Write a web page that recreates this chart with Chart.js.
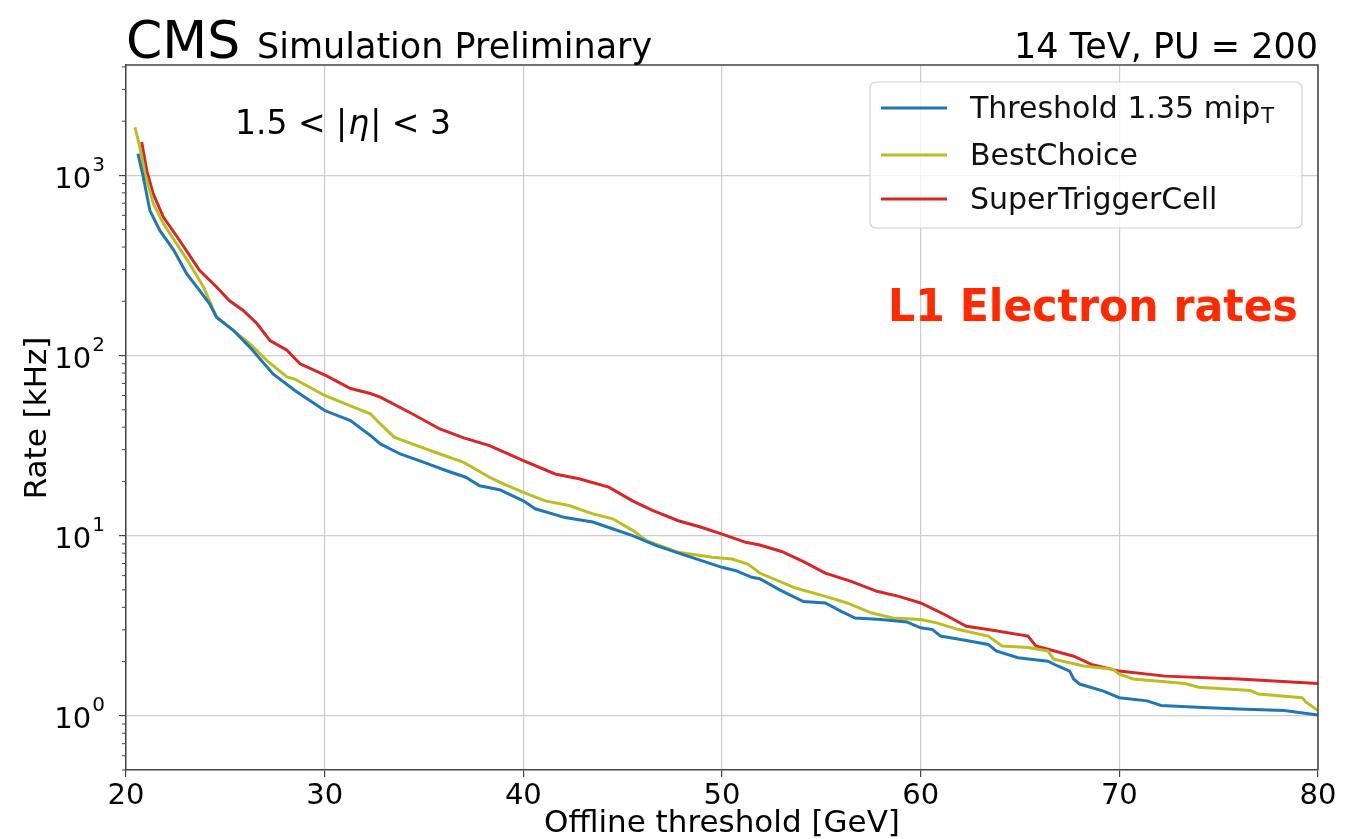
<!DOCTYPE html>
<html><head><meta charset="utf-8">
<script src="https://cdn.jsdelivr.net/npm/chart.js@4/dist/chart.umd.min.js"></script>
<style>html,body{margin:0;padding:0;background:#fff;overflow:hidden}</style>
</head><body>
<canvas id="c" width="1359" height="839"></canvas>
<script>
// ---- data ----
const seriesNames = ["Threshold 1.35 mip", "BestChoice", "SuperTriggerCell"];
const seriesColors = ["#1f77b4", "#bcbd22", "#d62728"];

const thrX = [20.6,20.87,21.2,21.7,22.4,23.05,23.7,24.2,24.56,25.4,26.24,27.4,28.5,30.0,31.3,32.3,32.8,33.8,35.0,36.1,37.1,37.8,38.8,40.0,40.6,42.1,43.5,44.3,45.5,46.7,48.2,50.0,50.7,51.5,51.9,52.9,54.1,55.2,56.0,56.7,58.0,59.3,60.0,60.6,61.0,62.3,63.4,63.8,64.9,66.4,66.9,67.5,67.7,68.0,69.2,70.0,71.4,72.1,74.2,76.0,78.3,80.0];
const thrY = [1320,980,640,495,385,285,230,194,163,138,111,79,64,49.5,43.5,36,32.3,28.4,25.5,23.0,21.1,18.9,18.0,15.6,14.1,12.6,11.9,11.1,10.0,8.8,7.74,6.67,6.39,5.87,5.77,5.0,4.31,4.23,3.80,3.49,3.42,3.32,3.08,3.01,2.77,2.62,2.49,2.29,2.10,2.01,1.89,1.77,1.60,1.50,1.37,1.26,1.21,1.14,1.11,1.09,1.07,1.01];

const bcX = [20.45,20.7,20.96,21.37,21.88,22.55,23.2,23.9,24.56,25.4,26.24,27.08,28.1,28.5,30.0,31.3,32.3,32.8,33.5,34.4,35.8,37.0,38.3,38.8,40.0,41.1,42.3,43.5,44.5,45.5,46.2,47.8,49.5,50.5,51.3,51.9,53.7,55.2,56.3,57.5,58.6,60.0,60.8,61.9,63.4,64.1,65.4,66.4,66.7,68.2,69.7,70.0,70.7,73.3,74.0,76.6,77.0,79.2,79.4,80.0];
const bcY = [1850,1430,1020,700,540,417,323,240,163,138,116,94,76,74,60,52.6,47.5,41.7,35.2,32.3,28.4,25.5,21.1,19.8,17.4,15.6,14.7,13.2,12.4,10.7,9.38,8.08,7.58,7.42,6.96,6.2,5.12,4.60,4.23,3.73,3.49,3.42,3.28,3.01,2.77,2.44,2.39,2.29,2.06,1.89,1.81,1.70,1.60,1.51,1.44,1.38,1.32,1.26,1.19,1.07];

const stcX = [20.79,21.04,21.37,21.88,22.7,23.7,24.56,25.2,25.9,26.6,27.25,28.1,28.76,30.1,31.3,32.3,32.8,34.4,35.8,37.0,38.3,40.0,41.6,42.8,44.3,45.5,46.5,47.8,49.0,50.0,51.2,51.9,53.0,54.1,55.2,56.5,57.8,58.9,60.0,61.2,62.3,63.4,65.4,65.8,67.7,68.6,70.0,72.3,76.0,80.0];
const stcY = [1530,1066,790,587,435,297,240,202,178,150,121,107,90,77,65.6,61.5,58.7,47.5,39.1,34.9,31.6,26.1,22.0,20.7,18.6,15.6,13.8,12.1,11.1,10.2,9.18,8.87,8.17,7.18,6.19,5.57,4.91,4.60,4.23,3.65,3.14,3.01,2.77,2.44,2.14,1.93,1.77,1.66,1.60,1.51];

const xTicks = [20,30,40,50,60,70,80];
const yDecades = [1,10,100,1000];
const yMin = 0.5, yMax = 4100;

const FONT = "'DejaVu Sans', sans-serif";

function pts(xs, ys){ return xs.map((x,i)=>({x:x, y:ys[i]})); }

const yTickValues = [];
[0.1,1,10,100,1000].forEach(d=>{ for(let k=1;k<10;k++){ const v=+(d*k).toPrecision(3); if(v>=yMin && v<=yMax) yTickValues.push(v);} });
const isDecade = v => yDecades.some(d=>Math.abs(d-v)<1e-9);

const overlay = {
  id:'overlay',
  afterDraw(chart){
    const c = chart.ctx, a = chart.chartArea;
    const xs = chart.scales.x, ys = chart.scales.y;
    c.save();
    // frame top/right
    c.strokeStyle = '#444'; c.lineWidth = 1.5;
    c.beginPath(); c.moveTo(a.left, a.top); c.lineTo(a.right, a.top); c.lineTo(a.right, a.bottom); c.stroke();
    // minor y ticks
    c.lineWidth = 1;
    yTickValues.forEach(v=>{ if(isDecade(v)) return; const p = ys.getPixelForValue(v); c.beginPath(); c.moveTo(a.left-4,p); c.lineTo(a.left,p); c.stroke(); });
    // y labels with superscripts
    c.fillStyle = '#000';
    yDecades.forEach(d=>{
      const p = ys.getPixelForValue(d);
      const e = String(Math.round(Math.log10(d)));
      c.font = "20px " + FONT; const ew = c.measureText(e).width;
      const right = a.left - 21;
      c.textBaseline = 'middle'; c.textAlign = 'left';
      c.fillText(e, right - ew, p - 10);
      c.font = "29px " + FONT; c.textAlign = 'right';
      c.fillText('10', right - ew - 1, p + 5);
    });
    // axis titles
    c.font = "31px " + FONT; c.textAlign = 'center'; c.textBaseline = 'middle';
    c.fillText('Offline threshold [GeV]', (a.left+a.right)/2, 824);
    c.save(); c.translate(38, 418); c.rotate(-Math.PI/2); c.fillText('Rate [kHz]', 0, 0); c.restore();
    // header
    c.textBaseline = 'alphabetic'; c.textAlign = 'left';
    c.font = "52px " + FONT; c.fillText('CMS', a.left, 58);
    c.font = "35px " + FONT; c.fillText('Simulation Preliminary', 257, 58);
    c.textAlign = 'right'; c.fillText('14 TeV, PU = 200', a.right, 58);
    // eta label
    c.textAlign = 'left'; c.textBaseline = 'middle';
    let x0 = 235; const ey = 125;
    c.font = "33px " + FONT; c.fillText('1.5 < |', x0, ey); x0 += c.measureText('1.5 < |').width;
    c.font = "italic 33px " + FONT; c.fillText('η', x0+1, ey); x0 += c.measureText('η').width + 2;
    c.font = "33px " + FONT; c.fillText('| < 3', x0, ey);
    // L1 text
    c.fillStyle = '#ff2a00'; c.font = "bold 44px " + FONT; c.textAlign = 'left';
    c.fillText('L1 Electron rates', 888, 310, 410);
    // legend
    const lx = 870, ly = 82, lw = 432, lh = 146;
    c.fillStyle = 'rgba(255,255,255,0.8)'; c.strokeStyle = '#d0d0d0'; c.lineWidth = 1.2;
    c.beginPath(); c.roundRect(lx, ly, lw, lh, 6); c.fill(); c.stroke();
    const rows = [108, 155, 199];
    chart.data.datasets.forEach((ds,i)=>{
      c.strokeStyle = ds.borderColor; c.lineWidth = 3;
      c.beginPath(); c.moveTo(881, rows[i]); c.lineTo(947, rows[i]); c.stroke();
      c.fillStyle = '#111'; c.font = "30px " + FONT; c.textAlign='left'; c.textBaseline='middle';
      c.fillText(ds.label, 970, rows[i] + 2);
      if(i===0){ const w = c.measureText(ds.label).width; c.font = "21px " + FONT; c.fillText('T', 970 + w + 1, rows[i] + 10); }
    });
    c.restore();
  }
};

new Chart(document.getElementById('c'), {
  type: 'line',
  data: { datasets: [
    {label: seriesNames[0], data: pts(thrX, thrY), borderColor: seriesColors[0]},
    {label: seriesNames[1], data: pts(bcX, bcY), borderColor: seriesColors[1]},
    {label: seriesNames[2], data: pts(stcX, stcY), borderColor: seriesColors[2]}
  ]},
  options: {
    responsive: false, animation: false,
    layout: { padding: { left: 0, right: 41, top: 65, bottom: 0 } },
    elements: { point: { radius: 0 }, line: { borderWidth: 3, tension: 0, fill: false } },
    plugins: { legend: { display: false }, tooltip: { enabled: false } },
    scales: {
      x: { type: 'linear', min: 20, max: 80,
        afterBuildTicks: s => { s.ticks = xTicks.map(v=>({value:v})); },
        afterFit: s => { s.height = 69; },
        grid: { color: '#cccccc', lineWidth: 1.2, tickLength: 7, tickColor: '#444', drawTicks: true },
        border: { color: '#444', width: 1.5 },
        ticks: { color: '#000', font: { size: 29, family: FONT }, padding: 2, maxRotation: 0 } },
      y: { type: 'logarithmic', min: yMin, max: yMax,
        afterBuildTicks: s => { s.ticks = yTickValues.map(v=>({value:v})); },
        afterFit: s => { s.width = 126; },
        grid: { color: ctx => (ctx.tick && isDecade(ctx.tick.value)) ? '#cccccc' : 'rgba(0,0,0,0)', lineWidth: 1.2, tickLength: 7,
                tickColor: ctx => (ctx.tick && isDecade(ctx.tick.value)) ? '#444' : 'rgba(0,0,0,0)' },
        border: { color: '#444', width: 1.5 },
        ticks: { display: false } }
    }
  },
  plugins: [overlay]
});
</script>
</body></html>
